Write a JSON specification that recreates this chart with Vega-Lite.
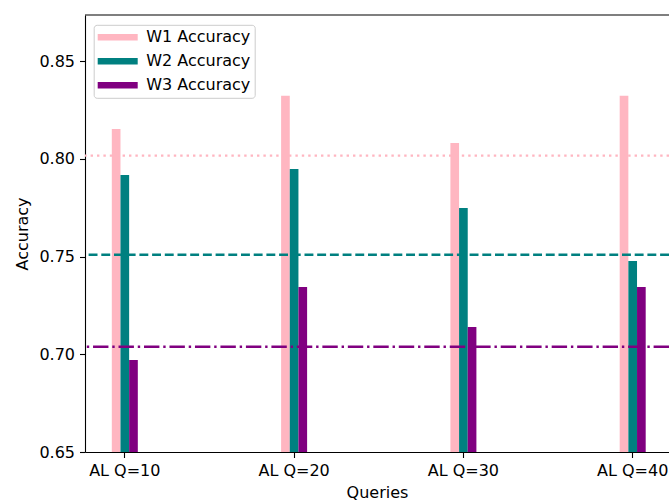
{
  "$schema": "https://vega.github.io/schema/vega-lite/v6.json",
  "width": 584,
  "height": 437,
  "autosize": {"type": "none"},
  "padding": {"left": 85, "top": 15, "right": 0, "bottom": 49},
  "background": "white",
  "config": {
    "view": {"stroke": null},
    "font": "DejaVu Sans",
    "axis": {
      "domainColor": "black",
      "domainWidth": 1.1,
      "tickColor": "black",
      "tickWidth": 1.1,
      "tickSize": 5.5,
      "labelFont": "DejaVu Sans",
      "labelFontSize": 16,
      "labelColor": "black",
      "titleFont": "DejaVu Sans",
      "titleFontSize": 16,
      "titleFontWeight": "normal",
      "titleColor": "black",
      "grid": false
    }
  },
  "layer": [
    {
      "data": {
        "values": [
          {"query": "AL Q=10", "series": "W1 Accuracy", "value": 0.8153},
          {"query": "AL Q=10", "series": "W2 Accuracy", "value": 0.7918},
          {"query": "AL Q=10", "series": "W3 Accuracy", "value": 0.6971},
          {"query": "AL Q=20", "series": "W1 Accuracy", "value": 0.8324},
          {"query": "AL Q=20", "series": "W2 Accuracy", "value": 0.7949},
          {"query": "AL Q=20", "series": "W3 Accuracy", "value": 0.7345},
          {"query": "AL Q=30", "series": "W1 Accuracy", "value": 0.8082},
          {"query": "AL Q=30", "series": "W2 Accuracy", "value": 0.7749},
          {"query": "AL Q=30", "series": "W3 Accuracy", "value": 0.7140},
          {"query": "AL Q=40", "series": "W1 Accuracy", "value": 0.8324},
          {"query": "AL Q=40", "series": "W2 Accuracy", "value": 0.7478},
          {"query": "AL Q=40", "series": "W3 Accuracy", "value": 0.7345}
        ]
      },
      "mark": {"type": "bar", "clip": true},
      "encoding": {
        "x": {
          "field": "query",
          "type": "nominal",
          "sort": null,
          "title": "Queries",
          "scale": {"paddingInner": 0.8464, "paddingOuter": 0.148, "align": 0.535},
          "axis": {"labelAngle": 0, "labelPadding": 5, "titlePadding": 6}
        },
        "xOffset": {"field": "series", "type": "nominal", "sort": null},
        "y": {
          "field": "value",
          "type": "quantitative",
          "title": "Accuracy",
          "scale": {"domain": [0.65, 0.8737], "zero": false, "nice": false},
          "axis": {"values": [0.65, 0.7, 0.75, 0.8, 0.85], "format": ".2f", "labelPadding": 5, "titlePadding": 8}
        },
        "color": {
          "field": "series",
          "type": "nominal",
          "sort": null,
          "scale": {
            "domain": ["W1 Accuracy", "W2 Accuracy", "W3 Accuracy"],
            "range": ["#FFB6C1", "#008080", "#800080"]
          },
          "legend": {
            "title": null,
            "orient": "none",
            "legendX": 8.7,
            "legendY": 9.8,
            "padding": 4,
            "fillColor": "white",
            "strokeColor": "#cccccc",
            "cornerRadius": 3,
            "symbolType": "M-2.353,-0.376H2.353V0.376H-2.353Z",
            "symbolSize": 289,
            "symbolStrokeWidth": 0,
            "symbolOpacity": 1,
            "symbolOffset": 11.5,
            "labelFont": "DejaVu Sans",
            "labelFontSize": 16,
            "labelColor": "black",
            "labelOffset": 20,
            "rowPadding": 7
          }
        }
      }
    },
    {
      "data": {"values": [{"baseline": 0.8017}]},
      "mark": {"type": "rule", "color": "#FFB6C1", "strokeWidth": 2.4, "strokeDash": [2.4, 4]},
      "encoding": {"y": {"field": "baseline", "type": "quantitative"}}
    },
    {
      "data": {"values": [{"baseline": 0.751}]},
      "mark": {"type": "rule", "color": "#008080", "strokeWidth": 2.4, "strokeDash": [8.9, 3.8]},
      "encoding": {"y": {"field": "baseline", "type": "quantitative"}}
    },
    {
      "data": {"values": [{"baseline": 0.7039}]},
      "mark": {"type": "rule", "color": "#800080", "strokeWidth": 2.4, "strokeDash": [15.4, 3.84, 2.4, 3.84]},
      "encoding": {"y": {"field": "baseline", "type": "quantitative"}}
    },
    {
      "data": {"values": [{"frame": 0.8737}]},
      "mark": {"type": "rule", "color": "black", "strokeWidth": 1.1},
      "encoding": {"y": {"field": "frame", "type": "quantitative"}}
    }
  ]
}
